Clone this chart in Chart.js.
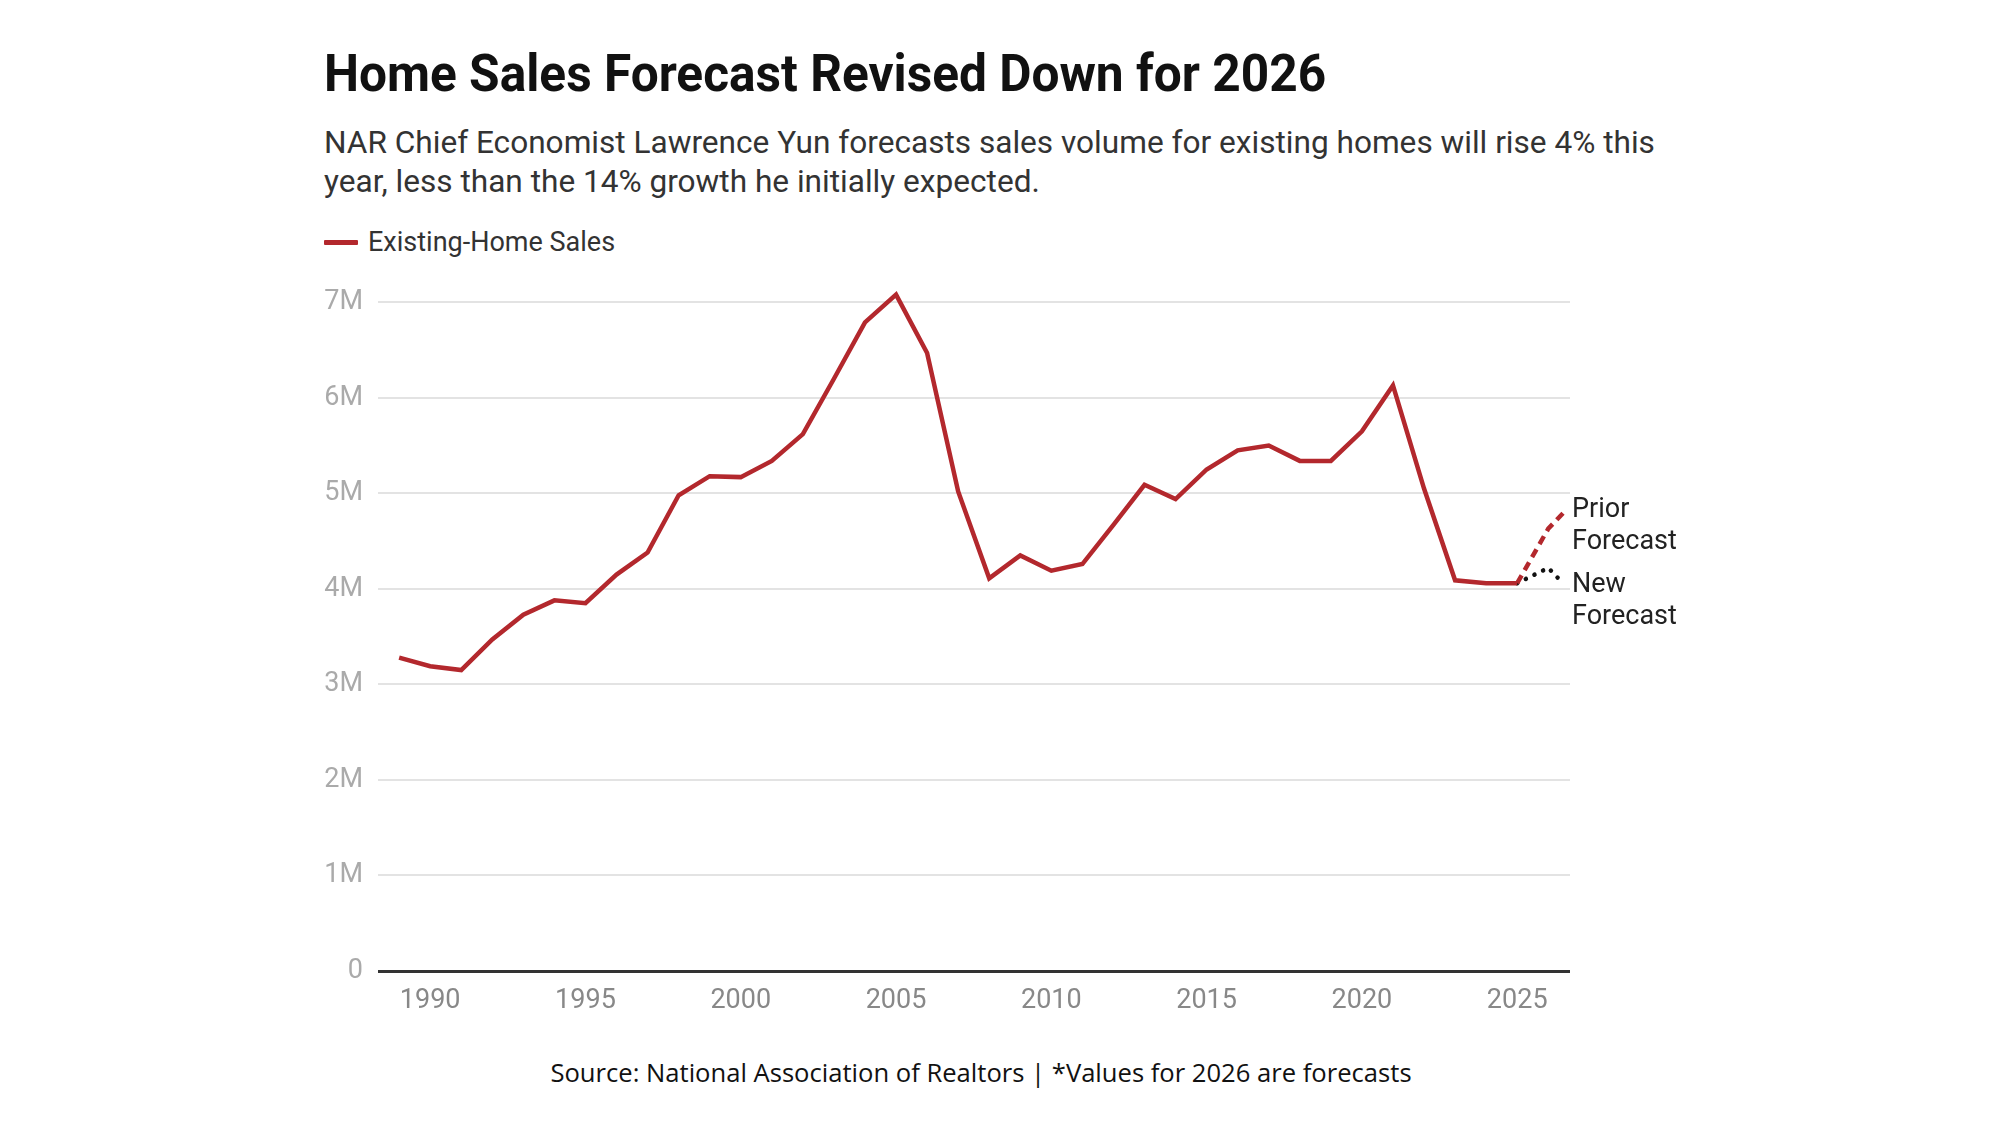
<!DOCTYPE html>
<html>
<head>
<meta charset="utf-8">
<title>Home Sales Forecast Revised Down for 2026</title>
<script src="https://cdn.jsdelivr.net/npm/chart.js@4.4.1/dist/chart.umd.min.js"></script>
<style>
  html, body { margin: 0; padding: 0; background: #fff; }
  body { width: 2000px; height: 1125px; position: relative; overflow: hidden; font-family: Roboto, sans-serif; }
  .title { position: absolute; left: 324px; top: 43px; font-size: 52px; font-weight: 700; color: #111; white-space: nowrap; transform: scaleX(0.954); transform-origin: left top; }
  .subtitle { position: absolute; left: 324px; top: 123px; font-size: 31.6px; line-height: 39px; color: #333; width: 1360px; }
  .legend { position: absolute; left: 324px; top: 226px; font-size: 27px; color: #333; display: flex; align-items: center; }
  .legend .swatch { width: 34px; height: 5px; background: #b3282d; margin-right: 10px; border-radius: 1px; }
  .chart-wrap { position: absolute; left: 300px; top: 252px; width: 1420px; height: 788px; }
  .footer { position: absolute; left: 0; width: 1962px; top: 1055px; text-align: center; font-family: "Open Sans", sans-serif; font-size: 25.6px; color: #111; }
</style>
</head>
<body>
<div class="title">Home Sales Forecast Revised Down for 2026</div>
<div class="subtitle">NAR Chief Economist Lawrence Yun forecasts sales volume for existing homes will rise 4% this year, less than the 14% growth he initially expected.</div>
<div class="legend"><span class="swatch"></span>Existing-Home Sales</div>
<div class="chart-wrap"><canvas id="salesChart"></canvas></div>
<div class="footer">Source: National Association of Realtors | *Values for 2026 are forecasts</div>

<script>
// Existing-home sales, millions
const years = [1989, 1990, 1991, 1992, 1993, 1994, 1995, 1996, 1997, 1998, 1999,
  2000, 2001, 2002, 2003, 2004, 2005, 2006, 2007, 2008, 2009,
  2010, 2011, 2012, 2013, 2014, 2015, 2016, 2017, 2018, 2019,
  2020, 2021, 2022, 2023, 2024, 2025];
const sales = [3.28, 3.19, 3.15, 3.47, 3.73, 3.88, 3.85, 4.15, 4.38, 4.98, 5.18,
  5.17, 5.34, 5.62, 6.20, 6.79, 7.08, 6.47, 5.02, 4.11, 4.35,
  4.19, 4.26, 4.67, 5.09, 4.94, 5.25, 5.45, 5.50, 5.34, 5.34,
  5.65, 6.13, 5.05, 4.09, 4.06, 4.06];

// Forecast lines start at the last actual year
const forecastYears = [2025, 2026, 2026.5];
const priorForecast = [4.06, 4.63, 4.80];
const newForecast = [4.06, 4.22, 4.05];

const xTicks = [1990, 1995, 2000, 2005, 2010, 2015, 2020, 2025];
const yTicks = [0, 1, 2, 3, 4, 5, 6, 7];
const yTickLabels = ['0', '1M', '2M', '3M', '4M', '5M', '6M', '7M'];

const RED = '#b3282d';

function toPoints(xs, ys) {
  return xs.map((x, i) => ({ x: x, y: ys[i] }));
}

// ── End labels for the forecast lines ─────────────────────────
const endLabels = {
  id: 'endLabels',
  afterDatasetsDraw(chart) {
    const ctx = chart.ctx;
    const y = chart.scales.y;
    const right = chart.chartArea.right;
    const items = [
      { lines: ['Prior', 'Forecast'], v: priorForecast[priorForecast.length - 1], dy: -2 },
      { lines: ['New', 'Forecast'], v: newForecast[newForecast.length - 1], dy: 1 }
    ];
    ctx.save();
    ctx.font = '27px Roboto';
    ctx.fillStyle = '#222';
    ctx.textBaseline = 'middle';
    ctx.textAlign = 'left';
    items.forEach(it => {
      const py = y.getPixelForValue(it.v) + it.dy;
      it.lines.forEach((t, i) => ctx.fillText(t, right + 2, py + i * 32));
    });
    ctx.restore();
  }
};

new Chart(document.getElementById('salesChart'), {
  type: 'line',
  data: {
    datasets: [
      {
        label: 'Existing-Home Sales',
        data: toPoints(years, sales),
        borderColor: RED,
        borderWidth: 4.5,
        pointRadius: 0,
        tension: 0,
        borderJoinStyle: 'miter'
      },
      {
        label: 'Prior Forecast',
        data: toPoints(forecastYears, priorForecast),
        borderColor: RED,
        borderWidth: 4.5,
        borderDash: [9, 6],
        pointRadius: 0
      },
      {
        label: 'New Forecast',
        data: toPoints(forecastYears, newForecast),
        borderColor: '#111',
        borderWidth: 4.5,
        borderDash: [0.1, 9.5],
        borderCapStyle: 'round',
        pointRadius: 0
      }
    ]
  },
  options: {
    responsive: true,
    maintainAspectRatio: false,
    animation: false,
    layout: { padding: { top: 13, right: 150, left: 0, bottom: 0 } },
    plugins: {
      legend: { display: false },
      tooltip: { enabled: false }
    },
    scales: {
      x: {
        type: 'linear',
        min: 1988.32,
        max: 2026.7,
        afterBuildTicks: axis => { axis.ticks = xTicks.map(v => ({ value: v })); },
        afterFit: axis => { axis.height = 69; },
        grid: { display: false, drawTicks: false },
        border: { display: false },
        ticks: {
          color: '#888',
          font: { family: 'Roboto', size: 27 },
          padding: 14,
          maxRotation: 0,
          autoSkip: false,
          callback: v => String(v)
        }
      },
      y: {
        min: 0,
        max: 7.2,
        afterBuildTicks: axis => { axis.ticks = yTicks.map(v => ({ value: v })); },
        afterFit: axis => { axis.width = 78; },
        grid: {
          color: ctx => ctx.tick && ctx.tick.value === 0 ? '#333' : '#e3e3e3',
          lineWidth: ctx => ctx.tick && ctx.tick.value === 0 ? 3 : 2,
          drawTicks: false
        },
        border: { display: false },
        ticks: {
          color: '#aaa',
          font: { family: 'Roboto', size: 27 },
          padding: 15,
          callback: v => yTickLabels[yTicks.indexOf(v)]
        }
      }
    }
  },
  plugins: [endLabels]
});
</script>
</body>
</html>
